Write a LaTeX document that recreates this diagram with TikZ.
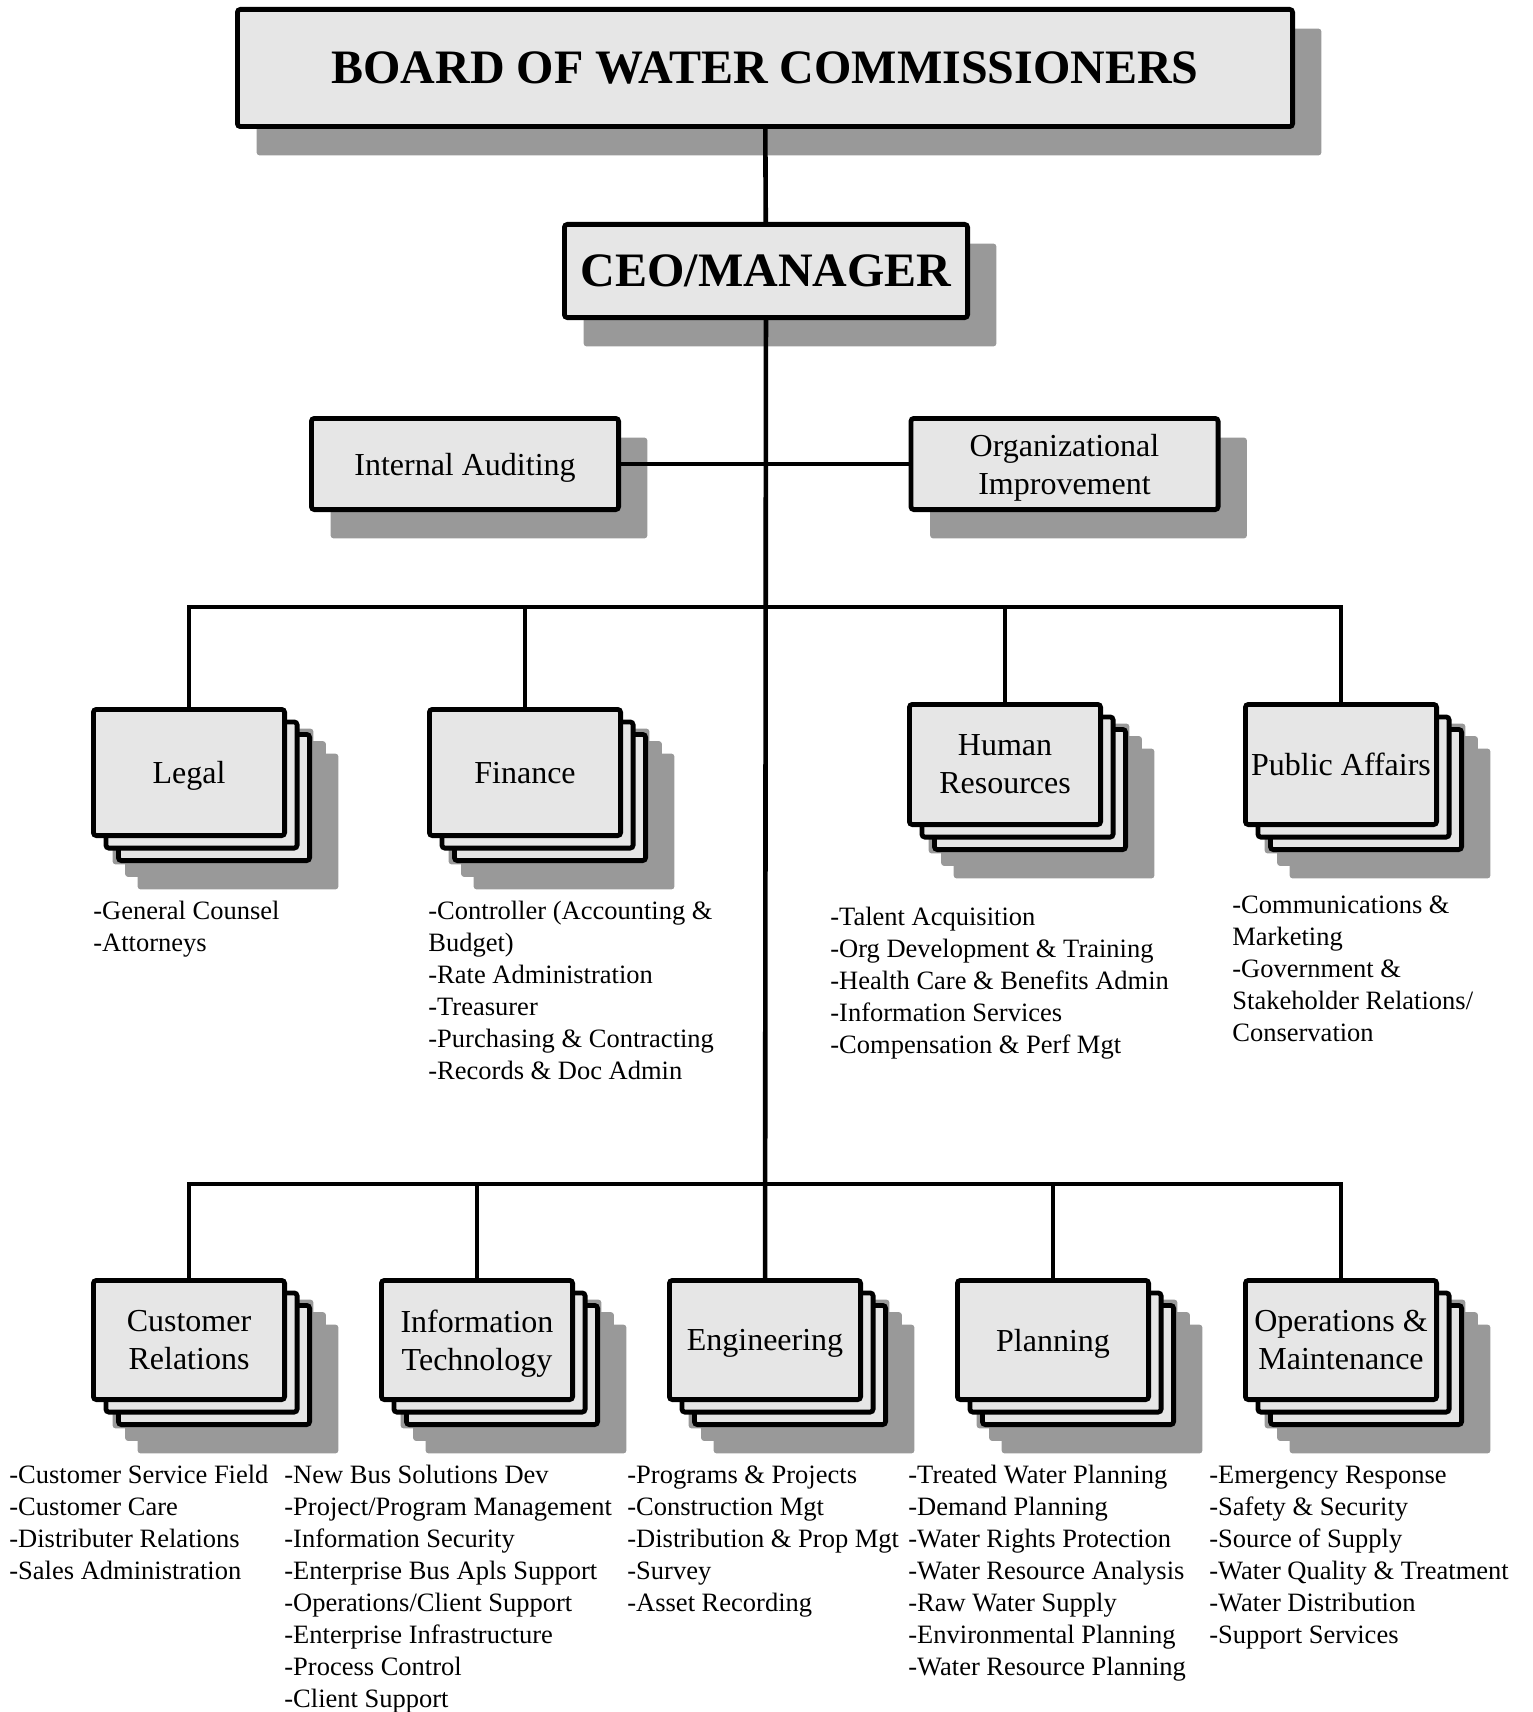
\documentclass[tikz,border=0pt]{standalone}
\usepackage{fontspec}
\setmainfont{Liberation Serif}
\usepackage{tikz}
\usetikzlibrary{positioning}
\definecolor{boxfill}{HTML}{E6E6E6}
\definecolor{shadegray}{HTML}{999999}
\pgfdeclarelayer{shade}
\pgfsetlayers{shade,main}
% grey drop shadow behind a named box
\newcommand{\dropshade}[1]{%
  \begin{pgfonlayer}{shade}
    \fill[shadegray,rounded corners=1.5pt] ([shift={(21.6,21.6)}]#1.north west) rectangle ([shift={(26.4,26.4)}]#1.south east);
  \end{pgfonlayer}}
% department box with two copies stacked behind it
\newcommand{\deptstack}[5]{%
  \node[unit,minimum height=#4] (#1c) at (#2+25,#3+25) {};
  \node[unit,minimum height=#4] (#1b) at (#2+12.5,#3+12.5) {};
  \node[unit,minimum height=#4] (#1) at (#2,#3) {#5};
  \dropshade{#1c}\dropshade{#1b}\dropshade{#1}}

\begin{document}
\begin{tikzpicture}[x=0.5pt,y=-0.5pt,
  unit/.style={draw,line width=2.4pt,fill=boxfill,rounded corners=1.5pt,minimum width=95.6pt,inner sep=1pt,text depth=0pt,align=center,font=\fontsize{16}{19}\selectfont},
  head/.style={unit,font=\fontsize{24}{28}\selectfont\bfseries},
  duties/.style={anchor=north west,align=left,inner sep=0pt,font=\fontsize{13.25}{16}\selectfont},
  link/.style={line width=2.3pt}
]
\useasboundingbox (0,0) rectangle (1532,1712);

\node[head,minimum width=527.6pt,minimum height=58.6pt] (board) at (765,68) {BOARD OF WATER COMMISSIONERS};
\node[head,minimum width=201.6pt,minimum height=46.6pt] (ceo) at (766,271) {CEO/MANAGER};
\node[unit,minimum width=153.6pt,minimum height=45.6pt] (audit) at (465,464) {Internal Auditing};
\node[unit,minimum width=153.6pt,minimum height=45.6pt] (orgimp) at (1064.5,464) {Organizational\\Improvement};
\dropshade{board}\dropshade{ceo}\dropshade{audit}\dropshade{orgimp}

% first row of departments
\deptstack{legal}{189}{772.5}{63.1pt}{Legal}
\deptstack{finance}{525}{772.5}{63.1pt}{Finance}
\deptstack{hr}{1005}{764.5}{60.1pt}{Human\\Resources}
\deptstack{pubaff}{1341}{764.5}{60.1pt}{Public Affairs}

% second row of departments
\deptstack{custrel}{189}{1340}{59.6pt}{Customer\\Relations}
\deptstack{infotech}{477}{1340}{59.6pt}{Information\\Technology}
\deptstack{eng}{765}{1340}{59.6pt}{Engineering}
\deptstack{plan}{1053}{1340}{59.6pt}{Planning}
\deptstack{opsmaint}{1341}{1340}{59.6pt}{Operations \&\\Maintenance}

\coordinate (bus1) at (765,607);
\coordinate (bus2) at (765,1184);

\draw[link] (board) -- (ceo);
\draw[link] (ceo) -- (eng);
\draw[link] (audit) -- (orgimp);
\draw[link] (legal.north) |- (bus1) -| (pubaff.north);
\draw[link] (finance.north) -- (finance.north |- bus1);
\draw[link] (hr.north) -- (hr.north |- bus1);
\draw[link] (custrel.north) |- (bus2) -| (opsmaint.north);
\draw[link] (infotech.north) -- (infotech.north |- bus2);
\draw[link] (plan.north) -- (plan.north |- bus2);

\node[duties] (legaljobs) at (93,897) {\strut-General Counsel\\-Attorneys};
\node[duties] (financejobs) at (428,897) {\strut-Controller (Accounting \&\\Budget)\\-Rate Administration\\-Treasurer\\-Purchasing \& Contracting\\-Records \& Doc Admin};
\node[duties] (hrjobs) at (830,903) {\strut-Talent Acquisition\\-Org Development \& Training\\-Health Care \& Benefits Admin\\-Information Services\\-Compensation \& Perf Mgt};
\node[duties] (pubaffjobs) at (1232,891) {\strut-Communications \&\\Marketing\\-Government \&\\Stakeholder Relations/\\Conservation};

\node[duties] (custreljobs) at (9,1461) {\strut-Customer Service Field\\-Customer Care\\-Distributer Relations\\-Sales Administration};
\node[duties] (infotechjobs) at (284,1461) {\strut-New Bus Solutions Dev\\-Project/Program Management\\-Information Security\\-Enterprise Bus Apls Support\\-Operations/Client Support\\-Enterprise Infrastructure\\-Process Control\\-Client Support};
\node[duties] (engjobs) at (627,1461) {\strut-Programs \& Projects\\-Construction Mgt\\-Distribution \& Prop Mgt\\-Survey\\-Asset Recording};
\node[duties] (planjobs) at (908,1461) {\strut-Treated Water Planning\\-Demand Planning\\-Water Rights Protection\\-Water Resource Analysis\\-Raw Water Supply\\-Environmental Planning\\-Water Resource Planning};
\node[duties] (opsmaintjobs) at (1209,1461) {\strut-Emergency Response\\-Safety \& Security\\-Source of Supply\\-Water Quality \& Treatment\\-Water Distribution\\-Support Services};
\end{tikzpicture}
\end{document}
